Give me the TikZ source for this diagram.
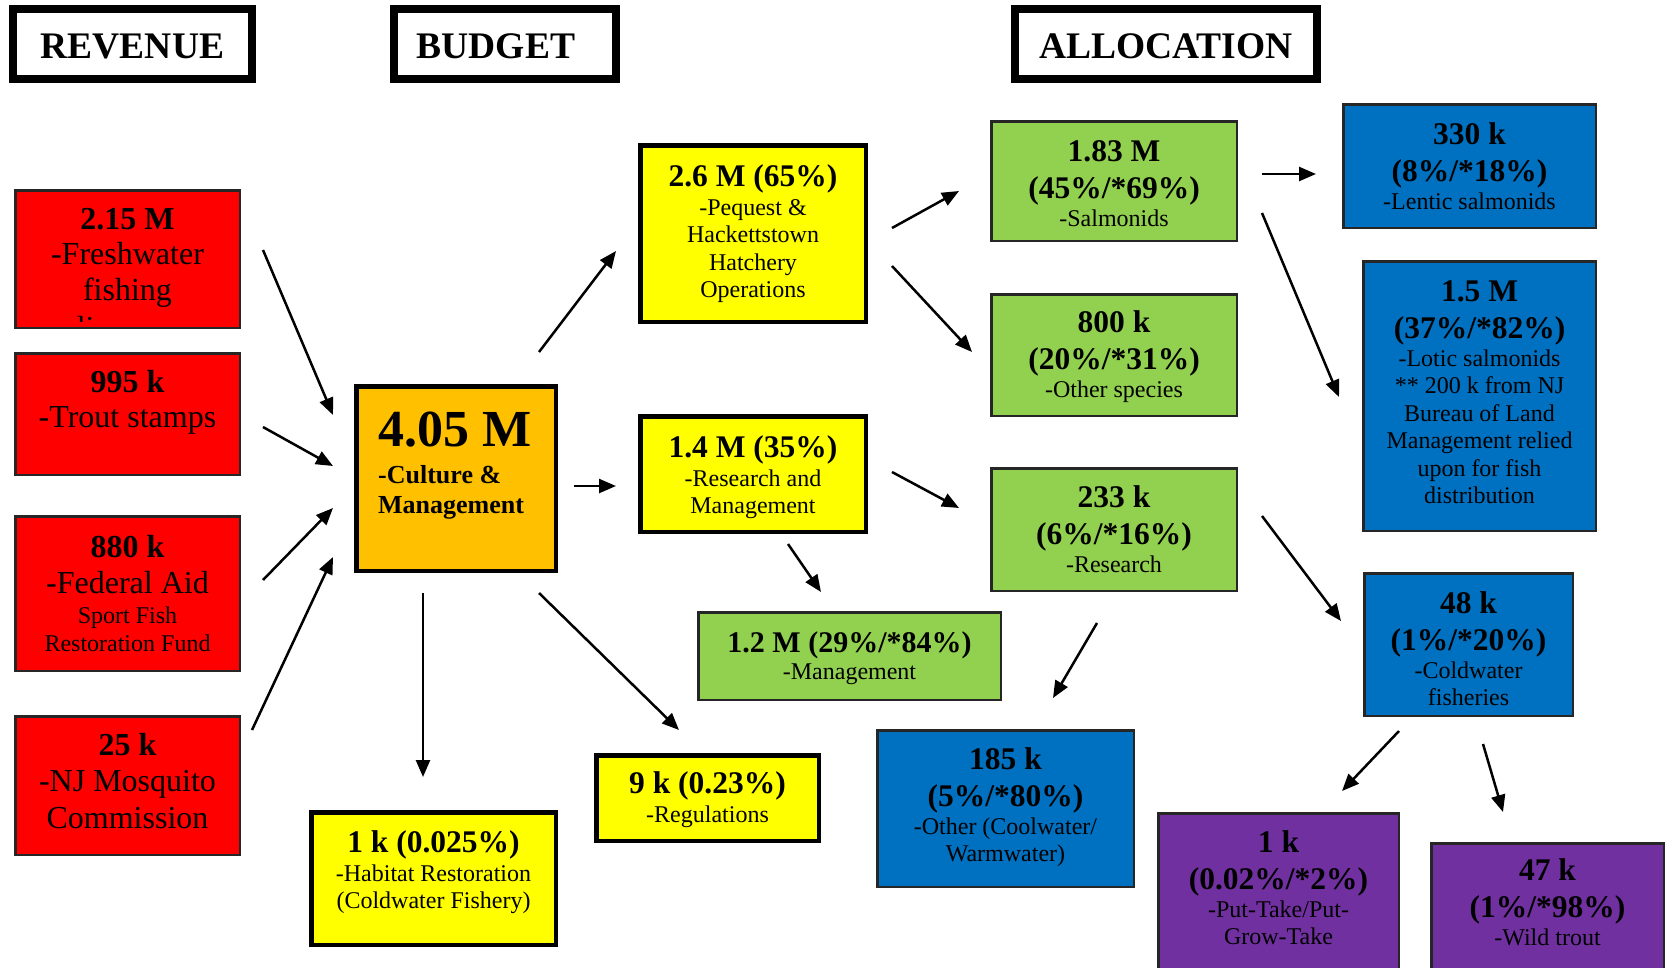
\documentclass[tikz,border=0pt]{standalone}
\usepackage{fontspec}
\setmainfont{Liberation Serif}
\usetikzlibrary{arrows.meta}
\definecolor{cred}{HTML}{FF0000}
\definecolor{corange}{HTML}{FFC000}
\definecolor{cyellow}{HTML}{FFFF00}
\definecolor{cgreen}{HTML}{92D050}
\definecolor{cblue}{HTML}{0070C0}
\definecolor{cpurple}{HTML}{7030A0}
\newcommand{\ns}{\spaceskip=0pt\relax\xspaceskip=0pt\relax}
\newcommand{\bfl}[1]{{\fontsize{31.5}{27.5}\selectfont\bfseries #1}}
\tikzset{
  titlebox/.style={draw=black, line width=8pt, fill=white, inner sep=0pt},
  thinbox/.style={draw=black!85, line width=2.5pt, inner sep=0pt},
  thickbox/.style={draw=black, line width=4.5pt, inner sep=0pt},
  ttl/.style={anchor=base, inner sep=0pt, font=\fontsize{37.5}{40}\selectfont\bfseries},
  txt/.style={anchor=base, inner sep=0pt, align=flush center, text width=#1, font=\fontsize{24}{27.5}\selectfont},
  redtxt/.style={anchor=base, inner sep=0pt, align=flush center, text width=220pt, font=\fontsize{32}{35.5}\selectfont},
  arr/.style={line width=2.5pt, -{Triangle[length=17pt,width=14pt]}},
}
\begin{document}
\begin{tikzpicture}[x=1pt,y=-1pt]
\useasboundingbox (0,0) rectangle (1668,967);
\fill[white] (0,0) rectangle (1668,967);
\clip (0,0) rectangle (1668,967);

% titles
\node[titlebox, minimum width=239pt, minimum height=70pt] (rev) at (132.5,44) {};
\node[ttl] (revt) at (132.5,58) {REVENUE};
\node[titlebox, minimum width=222pt, minimum height=70pt] (bud) at (505,44) {};
\node[ttl] (budt) at (496,58) {BUDGET};
\node[titlebox, minimum width=302pt, minimum height=70pt] (alc) at (1166,44) {};
\node[ttl] (alct) at (1166,58) {ALLOCATION};

% revenue
\node[thinbox, fill=cred, minimum width=224.5pt, minimum height=137.5pt] (r1) at (127.5,259) {};
\node[redtxt] (r1t) at (127.5,229) {\ns\textbf{2.15 M}\\-Freshwater\\fishing};
\begin{scope}
  \clip (16,189) rectangle (239,321);
  \node[redtxt] (r1x) at (127.5,338) {licenses};
\end{scope}
\node[thinbox, fill=cred, minimum width=224.5pt, minimum height=121.5pt] (r2) at (127.5,414) {};
\node[redtxt] (r2t) at (127.5,392) {\ns\textbf{995 k}\\-Trout stamps};
\node[thinbox, fill=cred, minimum width=224.5pt, minimum height=154.5pt] (r3) at (127.5,593.5) {};
\node[redtxt, font=\fontsize{32}{28}\selectfont] (r3t) at (127.5,557) {\ns\textbf{880 k}\\[8pt]-Federal Aid\\[2pt]{\fontsize{24}{28}\selectfont Sport Fish}\\{\fontsize{24}{28}\selectfont Restoration Fund}};
\node[thinbox, fill=cred, minimum width=224.5pt, minimum height=138.5pt] (r4) at (127.5,785.5) {};
\node[redtxt, font=\fontsize{32}{36.5}\selectfont] (r4t) at (127.5,755) {\ns\textbf{25 k}\\-NJ Mosquito\\Commission};

% budget
\node[thickbox, fill=corange, minimum width=199.5pt, minimum height=184.5pt] (or) at (456,478.5) {};
\node[anchor=base west, inner sep=0pt, align=flush left, text width=175pt, font=\fontsize{26}{30}\selectfont\bfseries] (ort) at (378,446) {\ns{\fontsize{52}{30}\selectfont 4.05 M}\\[7pt]-Culture \&\\Management};

\node[thickbox, fill=cyellow, minimum width=225.5pt, minimum height=176.5pt] (y26) at (753,233.5) {};
\node[txt=220pt] (y26t) at (753,186) {\ns\bfl{2.6 M (65\%)}\\[1.5pt]-Pequest \&\\Hackettstown\\Hatchery\\Operations};
\node[thickbox, fill=cyellow, minimum width=225.5pt, minimum height=115.5pt] (y14) at (753,474) {};
\node[txt=220pt] (y14t) at (753,457) {\ns\bfl{1.4 M (35\%)}\\[1.5pt]-Research and\\Management};
\node[thickbox, fill=cyellow, minimum width=244.5pt, minimum height=132.5pt] (y1k) at (433.5,878.5) {};
\node[txt=240pt] (y1kt) at (433.5,852) {\ns\bfl{1 k (0.025\%)}\\[1.5pt]-Habitat Restoration\\(Coldwater Fishery)};
\node[thickbox, fill=cyellow, minimum width=222.5pt, minimum height=85.5pt] (y9k) at (707.5,798) {};
\node[txt=218pt] (y9kt) at (707.5,793) {\ns\bfl{9 k (0.23\%)}\\[1.5pt]-Regulations};

% allocation
\node[thinbox, fill=cgreen, minimum width=245.5pt, minimum height=119.5pt] (g183) at (1114,181) {};
\node[txt=240pt] (g183t) at (1114,161) {\ns\bfl{1.83 M}\\[10pt]\bfl{(45\%/*69\%)}\\-Salmonids};
\node[thinbox, fill=cgreen, minimum width=245.5pt, minimum height=121.5pt] (g800) at (1114,355) {};
\node[txt=240pt] (g800t) at (1114,332) {\ns\bfl{800 k}\\[10pt]\bfl{(20\%/*31\%)}\\-Other species};
\node[thinbox, fill=cgreen, minimum width=245.5pt, minimum height=122.5pt] (g233) at (1114,529.5) {};
\node[txt=240pt] (g233t) at (1114,507) {\ns\bfl{233 k}\\[10pt]\bfl{(6\%/*16\%)}\\-Research};
\node[thinbox, fill=cgreen, minimum width=302.5pt, minimum height=87.5pt] (g12) at (849.5,656) {};
\node[txt=300pt] (g12t) at (849.5,652) {\ns{\fontsize{30}{27.5}\selectfont\bfseries 1.2 M (29\%/*84\%)}\\-Management};

\node[thinbox, fill=cblue, minimum width=252.5pt, minimum height=123.5pt] (b330) at (1469.5,166) {};
\node[txt=248pt] (b330t) at (1469.5,144) {\ns\bfl{330 k}\\[10pt]\bfl{(8\%/*18\%)}\\-Lentic salmonids};
\node[thinbox, fill=cblue, minimum width=232.5pt, minimum height=269.5pt] (b15) at (1479.5,396) {};
\node[txt=228pt] (b15t) at (1479.5,301) {\ns\bfl{1.5 M}\\[10pt]\bfl{(37\%/*82\%)}\\-Lotic salmonids\\{}** 200 k from NJ\\Bureau of Land\\Management relied\\upon for fish\\distribution};
\node[thinbox, fill=cblue, minimum width=208.5pt, minimum height=142.5pt] (b48) at (1468.5,644.5) {};
\node[txt=205pt] (b48t) at (1468.5,613) {\ns\bfl{48 k}\\[10pt]\bfl{(1\%/*20\%)}\\-Coldwater\\fisheries};
\node[thinbox, fill=cblue, minimum width=256.5pt, minimum height=156.5pt] (b185) at (1005.5,808.5) {};
\node[txt=250pt] (b185t) at (1005.5,769) {\ns\bfl{185 k}\\[10pt]\bfl{(5\%/*80\%)}\\-Other (Coolwater/\\Warmwater)};

\node[thinbox, fill=cpurple, minimum width=240.5pt, minimum height=165.5pt] (p1k) at (1278.5,896) {};
\node[txt=236pt] (p1kt) at (1278.5,852) {\ns\bfl{1 k}\\[10pt]\bfl{(0.02\%/*2\%)}\\-Put-Take/Put-\\Grow-Take};
\node[thinbox, fill=cpurple, minimum width=232.5pt, minimum height=135.5pt] (p47) at (1547.5,911) {};
\node[txt=228pt] (p47t) at (1547.5,880) {\ns\bfl{47 k}\\[10pt]\bfl{(1\%/*98\%)}\\-Wild trout};

% arrows
\coordinate (a1s) at (263,250);  \coordinate (a1e) at (333,415);
\coordinate (a2s) at (263,427);  \coordinate (a2e) at (333,466);
\coordinate (a3s) at (263,580);  \coordinate (a3e) at (333,508);
\coordinate (a4s) at (252,730);  \coordinate (a4e) at (333,557);
\coordinate (a5s) at (539,352);  \coordinate (a5e) at (616,251);
\coordinate (a6s) at (574,486);  \coordinate (a6e) at (616,486);
\coordinate (a7s) at (423,593);  \coordinate (a7e) at (423,777);
\coordinate (a8s) at (539,593);  \coordinate (a8e) at (679,730);
\coordinate (a9s) at (892,228);  \coordinate (a9e) at (959,191);
\coordinate (a10s) at (892,266); \coordinate (a10e) at (972,352);
\coordinate (a11s) at (892,472); \coordinate (a11e) at (959,508);
\coordinate (a12s) at (788,544); \coordinate (a12e) at (821,592);
\coordinate (a13s) at (1097,623); \coordinate (a13e) at (1053,698);
\coordinate (a14s) at (1262,174); \coordinate (a14e) at (1316,174);
\coordinate (a15s) at (1262,213); \coordinate (a15e) at (1339,397);
\coordinate (a16s) at (1262,516); \coordinate (a16e) at (1341,621);
\coordinate (a17s) at (1399,731); \coordinate (a17e) at (1342,791);
\coordinate (a18s) at (1483,744); \coordinate (a18e) at (1503,812);
\foreach \i in {1,...,18} { \draw[arr] (a\i s) -- (a\i e); }
\end{tikzpicture}
\end{document}
